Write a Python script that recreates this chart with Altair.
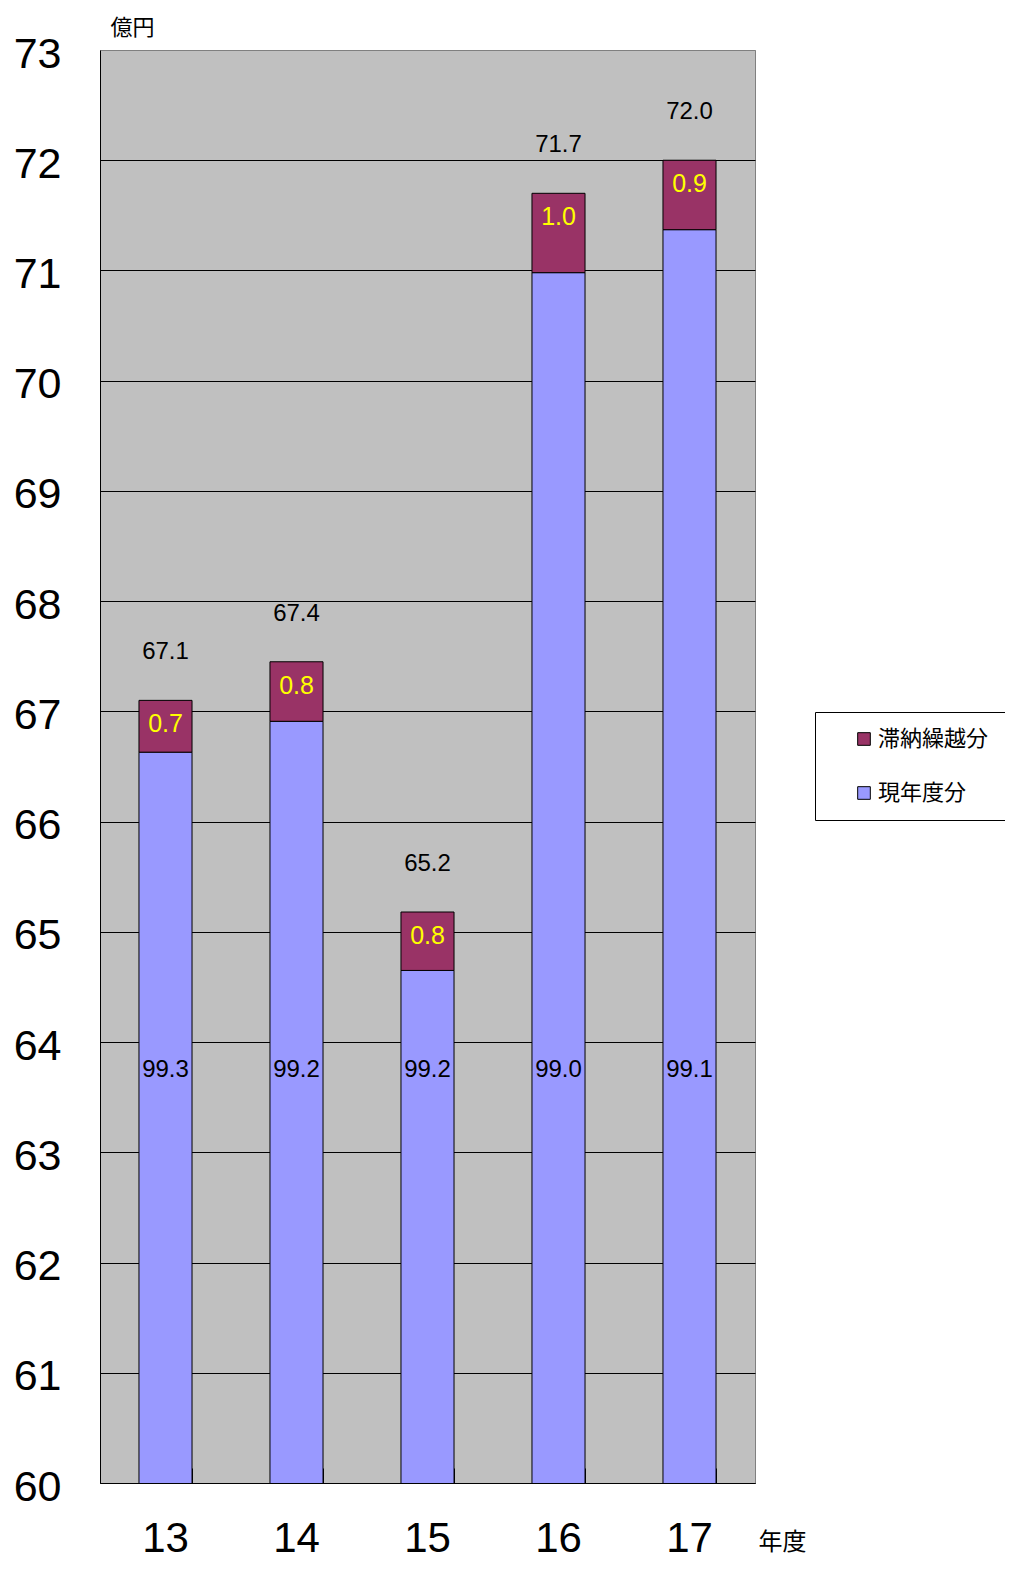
import altair as alt
import pandas as pd

years = ["13", "14", "15", "16", "17"]
current = [66.63, 66.91, 64.65, 70.98, 71.37]
delinquent = [0.47, 0.54, 0.53, 0.72, 0.63]
total_labels = ["67.1", "67.4", "65.2", "71.7", "72.0"]
current_pct = ["99.3", "99.2", "99.2", "99.0", "99.1"]
delinq_pct = ["0.7", "0.8", "0.8", "1.0", "0.9"]
series = ["滞納繰越分", "現年度分"]
colors = ["#993366", "#9999FF"]
y_ticks = list(range(60, 74))

rows = []
for i, yr in enumerate(years):
    rows.append({"year": yr, "series": "現年度分", "value": current[i], "k": 0})
    rows.append({"year": yr, "series": "滞納繰越分", "value": delinquent[i], "k": 1})
bars_df = pd.DataFrame(rows)

lab_df = pd.DataFrame({
    "year": years,
    "total": [c + d for c, d in zip(current, delinquent)],
    "tl": total_labels,
    "cp": current_pct,
    "dp": delinq_pct,
})

CJK = "Noto Sans CJK JP"
NUM = "Liberation Sans"

xscale = alt.Scale(paddingInner=0.595, paddingOuter=0.2975)
yscale = alt.Scale(domain=[60, 73], zero=False, nice=False)

x_main = alt.X(
    "year:N", sort=years, scale=xscale,
    axis=alt.Axis(
        orient="bottom", title="年度", labelAngle=0, labelFont=NUM, labelFontSize=42,
        labelColor="black", labelPadding=68, labelBaseline="alphabetic",
        ticks=False, tickSize=0, domainColor="black", domainWidth=1, grid=False,
        titleX=658, titleY=66, titleAlign="left", titleBaseline="alphabetic",
        titleFont=CJK, titleFontSize=24, titleFontWeight="normal", titleColor="black",
    ),
)
x_ticks = alt.X(
    "year:N", sort=years, scale=xscale,
    axis=alt.Axis(
        orient="top", offset=-1433, labels=False, domain=False, ticks=True,
        tickSize=15, tickColor="black", tickWidth=1, tickBand="extent",
        title=None, grid=False,
    ),
)
x_none = alt.X("year:N", sort=years, scale=xscale, axis=None)

y_axis = alt.Axis(
    orient="left", values=y_ticks, format="d", title="億円", titleAngle=0,
    titleX=10, titleY=-16, titleAlign="left", titleBaseline="alphabetic",
    titleFont=CJK, titleFontSize=22, titleFontWeight="normal", titleColor="black",
    labelFont=NUM, labelFontSize=43, labelColor="black", labelPadding=39,
    labelBaseline="alphabetic", labelOffset=17,
    ticks=False, tickSize=0, grid=True,
    gridColor={"condition": {"test": "datum.value == 73", "value": "#808080"}, "value": "black"},
    gridWidth=1, gridOpacity=1, domainColor="black", domainWidth=1,
)

bars = alt.Chart(bars_df).mark_bar(clip=True, stroke="black", strokeWidth=1).encode(
    x=x_main,
    y=alt.Y("value:Q", stack="zero", scale=yscale, axis=y_axis),
    color=alt.Color(
        "series:N", scale=alt.Scale(domain=series, range=colors),
        legend=alt.Legend(
            title=None, orient="none", legendX=715, legendY=662,
            strokeColor="black", fillColor="white", padding=16,
            symbolType="square", symbolSize=160, symbolStrokeColor="black",
            symbolStrokeWidth=1, symbolOffset=22, labelOffset=3, rowPadding=32,
            labelFont=CJK, labelFontSize=22, labelColor="black", labelLimit=300,
        ),
    ),
    order=alt.Order("k:Q", sort="ascending"),
)

total_text = alt.Chart(lab_df).mark_text(
    font=NUM, fontSize=24, color="black", baseline="middle", dy=-48
).encode(
    x=x_ticks,
    y=alt.Y("total:Q", scale=yscale, axis=y_axis),
    text="tl:N",
)

delinq_text = alt.Chart(lab_df).mark_text(
    font=NUM, fontSize=25, color="#FFFF00", baseline="middle", dy=24
).encode(
    x=x_none,
    y=alt.Y("total:Q", scale=yscale, axis=y_axis),
    text="dp:N",
)

current_text = alt.Chart(lab_df).mark_text(
    font=NUM, fontSize=24, color="black", baseline="middle"
).encode(
    x=x_none,
    y=alt.YDatum(63.75, scale=yscale, axis=y_axis),
    text="cp:N",
)

chart = alt.layer(bars, total_text, delinq_text, current_text).resolve_axis(
    x="independent"
).properties(
    width=655,
    height=1433,
    autosize=alt.AutoSizeParams(type="none"),
    padding={"left": 92, "top": 42, "right": 250, "bottom": 77},
    background="white",
).configure_view(
    fill="#C0C0C0", stroke="#808080", strokeWidth=1
)

chart.save("out.html", embed_options={"renderer": "svg", "actions": False})
